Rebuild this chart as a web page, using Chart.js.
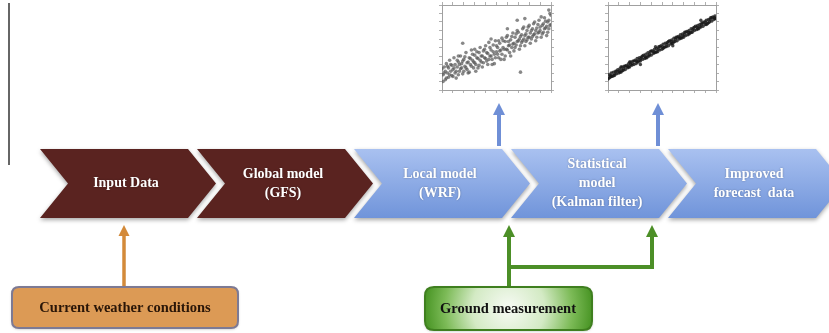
<!DOCTYPE html>
<html>
<head>
<meta charset="utf-8">
<script src="https://cdn.jsdelivr.net/npm/chart.js@4.4.0/dist/chart.umd.min.js"></script>
<style>
html, body { margin: 0; padding: 0; background: #fff; }
#wrap { position: relative; width: 829px; height: 333px; overflow: hidden; }
#diagram { position: absolute; left: 0; top: 0; }
.inset { position: absolute; }
</style>
</head>
<body>
<div id="wrap">
  <canvas id="diagram" width="829" height="333"></canvas>
  <div class="inset" style="left:438px;top:1px;width:117px;height:93px"><canvas id="scatterA"></canvas></div>
  <div class="inset" style="left:604px;top:1px;width:116px;height:93px"><canvas id="scatterB"></canvas></div>
</div>
<script>
// stages of the forecast chain
const stageNames = [
    ['Input Data'],
    ['Global model', '(GFS)'],
    ['Local model', '(WRF)'],
    ['Statistical', 'model', '(Kalman filter)'],
    ['Improved', 'forecast  data']
];
const stageGroup = ['input', 'input', 'model', 'model', 'model'];
const sourceNames = ['Current weather conditions', 'Ground measurement'];

// raw local model output vs observation (left inset)
const scatterA = [
    [1,18],[2,27],[3,12],[3,22],[4,31],[5,20],[6,15],[6,26],[7,35],[8,22],[9,17],[9,29],
    [10,24],[11,38],[12,20],[12,30],[13,14],[14,27],[15,33],[16,22],[17,40],[18,26],[18,31],
    [19,19],[19,55],[20,36],[21,28],[22,44],[23,24],[24,33],[25,38],[25,21],[26,30],[27,47],
    [28,35],[29,26],[30,41],[30,32],[31,22],[32,45],[33,37],[34,29],[35,50],[36,40],[36,33],
    [37,27],[38,46],[39,38],[40,52],[41,34],[42,43],[42,30],[43,56],[44,40],[45,47],[46,36],
    [47,53],[48,42],[48,31],[49,58],[50,45],[51,50],[52,38],[53,55],[54,47],[55,61],[55,42],
    [56,50],[57,36],[58,57],[59,48],[60,64],[61,52],[62,44],[63,59],[64,50],[65,67],[66,55],
    [66,46],[67,62],[68,53],[69,82],[69,70],[70,58],[71,48],[72,21],[72,63],[73,56],[74,72],
    [75,60],[76,52],[77,66],[78,59],[79,74],[80,62],[81,55],[82,70],[83,63],[84,78],[85,66],
    [86,58],[87,73],[88,67],[89,82],[90,70],[91,62],[92,76],[93,68],[94,85],[95,73],[96,64],
    [97,80],[98,72],[98,94],[99,90],[100,77],
    [0,25],[1,10],[2,20],[4,14],[5,28],[7,18],[8,30],[10,16],[11,26],[13,22],[14,35],[15,18],
    [16,30],[17,25],[19,34],[20,22],[21,39],[22,26],[23,32],[24,20],[26,37],[27,28],[28,42],
    [29,33],[31,30],[32,38],[33,26],[34,44],[35,35],[37,40],[38,32],[39,48],[40,37],[41,44],
    [43,36],[44,50],[45,40],[46,30],[47,45],[49,38],[50,52],[51,42],[52,58],[53,46],[54,36],
    [56,58],[57,48],[58,40],[59,62],[60,47],[61,57],[62,53],[63,40],[64,63],[65,54],[67,50],
    [68,66],[69,57],[70,68],[71,60],[72,52],[73,65],[74,58],[75,74],[76,64],[77,57],[78,70],
    [79,62],[80,76],[81,67],[82,60],[83,72],[84,65],[85,80],[86,70],[87,62],[88,77],[89,68],
    [90,74],[91,86],[92,66],[93,78],[94,72],[95,81],[96,75],[97,68],[98,82],[99,76],[100,88],
    [76,84],[60,72],[45,60],[30,48],[15,40]
];

// Kalman filtered output vs observation (right inset)
const scatterB = [
    [0,13],[1,18],[2,15],[3,20],[4,16],[5,21],[6,17],[7,22],[8,19],[9,24],[10,20],[11,25],
    [12,21],[13,27],[14,23],[15,28],[16,24],[17,29],[18,26],[19,31],[20,27],[20,33],[21,33],
    [22,29],[23,34],[24,30],[25,35],[26,31],[27,37],[28,33],[29,38],[30,34],[31,39],[32,36],
    [33,41],[34,37],[35,42],[36,38],[37,44],[38,40],[39,45],[40,41],[41,46],[42,43],[43,48],
    [44,44],[45,49],[46,45],[47,51],[48,47],[49,52],[50,48],[51,54],[52,50],[53,55],[54,51],
    [55,56],[56,52],[57,58],[58,54],[59,59],[60,55],[60,52],[61,61],[62,57],[63,62],[64,58],
    [65,63],[66,60],[67,65],[68,61],[69,66],[70,62],[71,68],[72,64],[73,69],[74,65],[75,70],
    [76,67],[77,72],[78,68],[79,73],[80,70],[81,75],[82,71],[83,76],[84,72],[85,77],[86,74],
    [87,79],[88,75],[89,80],[90,77],[91,82],[92,78],[93,83],[94,80],[95,85],[96,81],[97,86],
    [98,83],[99,87],[100,84],
    [2.5,17],[6.5,19],[10.5,22],[14.5,25],[18.5,28],[22.5,31],[26.5,34],[30.5,37],[34.5,39],
    [38.5,42],[42.5,45],[46.5,48],[50.5,51],[54.5,54],[58.5,57],[62.5,60],[66.5,62],[70.5,65],
    [74.5,68],[78.5,71],[82.5,74],[86.5,77],[90.5,80],[94.5,83],[98.5,85],
    [1,14],[3,16],[5,17],[8,22],[11,21],[13,23],[16,28],[19,27],[21,30],[24,34],[27,33],
    [29,35],[32,40],[35,38],[37,40],[40,46],[43,44],[45,45],[48,51],[51,49],[53,51],[56,57],
    [59,55],[61,57],[64,62],[67,61],[69,63],[72,68],[75,66],[77,68],[80,74],[83,72],[85,74],
    [88,79],[91,77],[93,79],[96,85],[99,84],[44,51],[86,82],[30,30],[12,27]
];

const brown = '#5a2320';
const blueTop = '#a9c1f0';
const blueBottom = '#7094da';
const blueArrow = '#6f8fd6';
const orange = '#d38a3a';
const green = '#4c8f27';

function arrowUp(ctx, x, yTip, yBase, color, width, head) {
    ctx.strokeStyle = color;
    ctx.fillStyle = color;
    ctx.lineWidth = width;
    ctx.beginPath();
    ctx.moveTo(x, yBase);
    ctx.lineTo(x, yTip + head - 1);
    ctx.stroke();
    ctx.beginPath();
    ctx.moveTo(x, yTip);
    ctx.lineTo(x - head / 2, yTip + head);
    ctx.lineTo(x + head / 2, yTip + head);
    ctx.closePath();
    ctx.fill();
}

function roundRect(ctx, x, y, w, h, r) {
    ctx.beginPath();
    ctx.moveTo(x + r, y);
    ctx.lineTo(x + w - r, y);
    ctx.quadraticCurveTo(x + w, y, x + w, y + r);
    ctx.lineTo(x + w, y + h - r);
    ctx.quadraticCurveTo(x + w, y + h, x + w - r, y + h);
    ctx.lineTo(x + r, y + h);
    ctx.quadraticCurveTo(x, y + h, x, y + h - r);
    ctx.lineTo(x, y + r);
    ctx.quadraticCurveTo(x, y, x + r, y);
    ctx.closePath();
}

const flowPlugin = {
    id: 'flowPlugin',
    afterDraw: (chart) => {
        const ctx = chart.ctx;
        const X = v => chart.scales.x.getPixelForValue(v);
        const Y = v => chart.scales.y.getPixelForValue(v);

        ctx.save();

        // left margin rule
        ctx.strokeStyle = '#666';
        ctx.lineWidth = 2;
        ctx.beginPath();
        ctx.moveTo(X(9), Y(3));
        ctx.lineTo(X(9), Y(165));
        ctx.stroke();

        // chevrons
        const top = Y(149), bottom = Y(218), mid = Y(183.5);
        const depth = 28, body = 148;
        stageNames.forEach((lines, i) => {
            const x0 = X(40 + i * 157);
            ctx.save();
            ctx.beginPath();
            ctx.moveTo(x0, top);
            ctx.lineTo(x0 + body, top);
            ctx.lineTo(x0 + body + depth, mid);
            ctx.lineTo(x0 + body, bottom);
            ctx.lineTo(x0, bottom);
            ctx.lineTo(x0 + depth, mid);
            ctx.closePath();
            if (stageGroup[i] === 'input') {
                ctx.fillStyle = brown;
            } else {
                const g = ctx.createLinearGradient(0, top, 0, bottom);
                g.addColorStop(0, blueTop);
                g.addColorStop(1, blueBottom);
                ctx.fillStyle = g;
            }
            ctx.shadowColor = 'rgba(0,0,0,0.35)';
            ctx.shadowBlur = 4;
            ctx.shadowOffsetY = 2;
            ctx.fill();
            ctx.restore();

            ctx.save();
            ctx.font = 'bold 14px "Liberation Serif"';
            ctx.fillStyle = '#fff';
            ctx.textAlign = 'center';
            ctx.textBaseline = 'middle';
            ctx.shadowColor = 'rgba(0,0,0,0.3)';
            ctx.shadowBlur = 2;
            const cx = x0 + 86;
            const step = 19;
            const y0 = mid - (lines.length - 1) * step / 2;
            lines.forEach((t, k) => ctx.fillText(t, cx, y0 + k * step));
            ctx.restore();
        });

        // arrows up to the inset plots
        arrowUp(ctx, X(499), Y(103), Y(146), blueArrow, 4, 12);
        arrowUp(ctx, X(658), Y(103), Y(146), blueArrow, 4, 12);

        // current weather conditions
        arrowUp(ctx, X(124), Y(225), Y(288), orange, 3.5, 11);
        ctx.save();
        roundRect(ctx, X(12), Y(287), X(238) - X(12), Y(328) - Y(287), 7);
        ctx.fillStyle = '#dc9a55';
        ctx.shadowColor = 'rgba(0,0,0,0.3)';
        ctx.shadowBlur = 3;
        ctx.shadowOffsetY = 1;
        ctx.fill();
        ctx.shadowColor = 'transparent';
        ctx.strokeStyle = '#7d7a94';
        ctx.lineWidth = 2;
        ctx.stroke();
        ctx.fillStyle = '#2a1608';
        ctx.font = 'bold 14.5px "Liberation Serif"';
        ctx.textAlign = 'center';
        ctx.textBaseline = 'middle';
        ctx.fillText(sourceNames[0], X(125), Y(308));
        ctx.restore();

        // ground measurement
        ctx.save();
        ctx.strokeStyle = green;
        ctx.lineWidth = 4;
        ctx.beginPath();
        ctx.moveTo(X(509), Y(267));
        ctx.lineTo(X(652), Y(267));
        ctx.lineTo(X(652), Y(236));
        ctx.stroke();
        ctx.restore();
        arrowUp(ctx, X(509), Y(225), Y(288), green, 4, 12);
        arrowUp(ctx, X(652), Y(225), Y(268), green, 4, 12);

        ctx.save();
        const bx = X(425), by = Y(287), bw = X(592) - X(425), bh = Y(330) - Y(287);
        roundRect(ctx, bx, by, bw, bh, 9);
        const rg = ctx.createRadialGradient(bx + bw / 2, by + bh / 2, 5, bx + bw / 2, by + bh / 2, bw / 2);
        rg.addColorStop(0, '#f2f8ee');
        rg.addColorStop(0.4, '#d3eac4');
        rg.addColorStop(0.75, '#7dbb58');
        rg.addColorStop(1, '#4a9626');
        ctx.fillStyle = rg;
        ctx.shadowColor = 'rgba(0,0,0,0.3)';
        ctx.shadowBlur = 3;
        ctx.shadowOffsetY = 1;
        ctx.fill();
        ctx.shadowColor = 'transparent';
        ctx.strokeStyle = '#3f7f1f';
        ctx.lineWidth = 2;
        ctx.stroke();
        ctx.fillStyle = '#111';
        ctx.font = 'bold 14.5px "Liberation Serif"';
        ctx.textAlign = 'center';
        ctx.textBaseline = 'middle';
        ctx.fillText(sourceNames[1], X(508), Y(309));
        ctx.restore();

        ctx.restore();
    }
};

new Chart(document.getElementById('diagram'), {
    type: 'scatter',
    data: { datasets: [] },
    options: {
        responsive: false,
        animation: false,
        layout: { padding: 0 },
        scales: {
            x: { type: 'linear', min: 0, max: 829, display: false },
            y: { type: 'linear', min: 0, max: 333, reverse: true, display: false }
        },
        plugins: {
            legend: { display: false },
            tooltip: { enabled: false }
        }
    },
    plugins: [flowPlugin]
});

function insetAxis(position) {
    return {
        type: 'linear',
        position: position,
        min: 0,
        max: 100,
        ticks: { display: false, stepSize: 10 },
        grid: { drawOnChartArea: false, tickLength: 3, color: '#b0b0b0' },
        border: { color: '#a0a0a0' }
    };
}

function insetChart(id, points, color, radius) {
    return new Chart(document.getElementById(id), {
        type: 'scatter',
        data: {
            datasets: [{
                data: points.map(p => ({ x: p[0], y: p[1] })),
                backgroundColor: color,
                borderWidth: 0,
                pointRadius: radius
            }]
        },
        options: {
            responsive: true,
            maintainAspectRatio: false,
            animation: false,
            layout: { padding: 0 },
            scales: {
                x: insetAxis('bottom'),
                x2: insetAxis('top'),
                y: insetAxis('left'),
                y2: insetAxis('right')
            },
            plugins: {
                legend: { display: false },
                tooltip: { enabled: false }
            }
        }
    });
}

insetChart('scatterA', scatterA, 'rgba(85,85,85,0.7)', 1.8);
insetChart('scatterB', scatterB, 'rgba(25,25,25,0.8)', 1.7);
</script>
</body>
</html>
